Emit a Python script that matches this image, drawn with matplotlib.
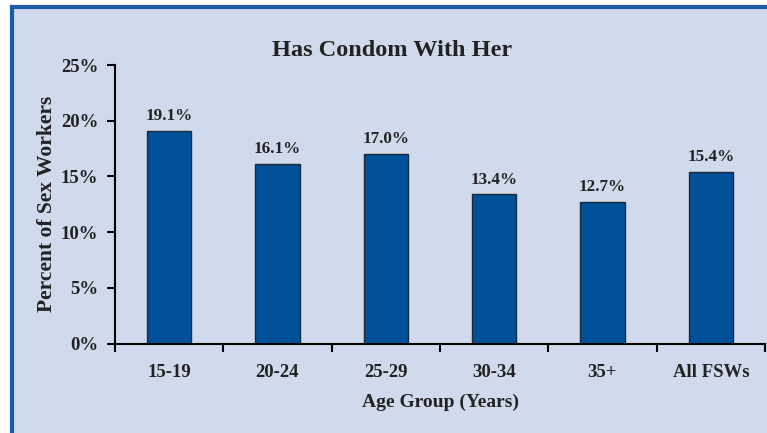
import matplotlib
matplotlib.use("Agg")
import matplotlib.pyplot as plt
from matplotlib.patches import Rectangle
from matplotlib.lines import Line2D

BG = "#d1daec"
BORDER = "#1c5ca4"
BAR = "#00509a"

groups = ["15-19", "20-24", "25-29", "30-34", "35+", "All FSWs"]
values = [19.1, 16.1, 17.0, 13.4, 12.7, 15.4]
yticks = [0, 5, 10, 15, 20, 25]

plt.rcParams["font.family"] = ["Liberation Serif", "DejaVu Serif"]
plt.rcParams["font.weight"] = "bold"

fig = plt.figure(figsize=(7.67, 4.33), dpi=100, facecolor="white")

# panel background with blue top/left border
W, H = 767, 433
fig.patches.append(Rectangle((12 / W, 0), 1, 1 - 7 / H, transform=fig.transFigure,
                             facecolor=BG, edgecolor="none", zorder=-10))
fig.add_artist(Line2D([11.5 / W, 1], [1 - 6.5 / H, 1 - 6.5 / H], transform=fig.transFigure,
                      color=BORDER, lw=3, zorder=-5))
fig.add_artist(Line2D([11.5 / W, 11.5 / W], [0, 1 - 6.5 / H], transform=fig.transFigure,
                      color=BORDER, lw=3, zorder=-5))

ax = fig.add_axes([115 / W, 1 - 343.5 / H, 650 / W, 278.5 / H])
ax.set_facecolor("none")
x = range(len(groups))
bars = ax.bar(x, values, width=0.41, color=BAR, edgecolor="#1a2a3a", linewidth=1)
for b, v in zip(bars, values):
    ax.text(b.get_x() + b.get_width() / 2, v + 0.6, f"{v:.1f}%", ha="center", va="bottom",
            fontsize=12.3, fontweight="bold", color="#222222")

ax.set_xlim(-0.5, len(groups) - 0.5)
ax.set_ylim(0, 25)
ax.set_yticks(yticks)
ax.set_yticklabels([f"{t}%" for t in yticks])
ax.set_xticks([i - 0.5 for i in range(len(groups) + 1)], minor=False)
ax.set_xticklabels([])
ax.set_xticks(list(x), minor=True)
ax.set_xticklabels(groups, minor=True)
ax.tick_params(axis="x", which="minor", length=0, pad=15, labelsize=13.5, labelcolor="#222222")
ax.tick_params(axis="x", which="major", length=6, width=1.5, direction="out")
ax.tick_params(axis="y", length=6, width=1.5, direction="out", labelsize=13.5, labelcolor="#222222", pad=6)

for s in ("top", "right"):
    ax.spines[s].set_visible(False)
for s in ("left", "bottom"):
    ax.spines[s].set_linewidth(1.5)
    ax.spines[s].set_color("black")

ax.set_ylabel("Percent of Sex Workers", fontsize=15.5, fontweight="bold", color="#222222", labelpad=3)
ax.set_xlabel("Age Group (Years)", fontsize=14, fontweight="bold", color="#222222", labelpad=9)
fig.text(392 / W, 1 - 51 / H, "Has Condom With Her", ha="center", va="center",
         fontsize=17.5, fontweight="bold", color="#222222")

fig.savefig("out.png", dpi=100, facecolor="white")
